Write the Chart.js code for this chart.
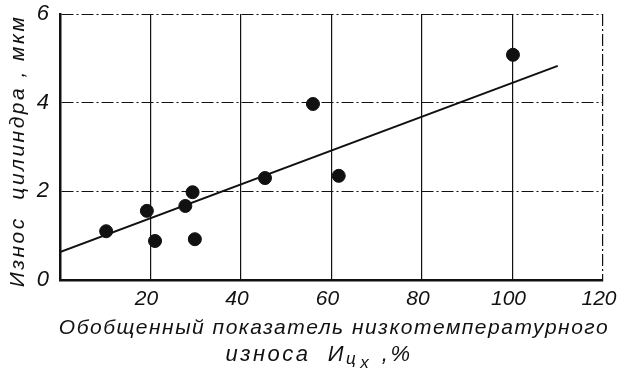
<!DOCTYPE html>
<html>
<head>
<meta charset="utf-8">
<script src="https://cdn.jsdelivr.net/npm/chart.js@4.4.1/dist/chart.umd.min.js"></script>
<style>
    html, body { margin: 0; padding: 0; background: #fff; }
    #wrap { width: 617px; height: 373px; }
</style>
</head>
<body>
<div id="wrap"><canvas id="wearChart" width="617" height="373"></canvas></div>
<script>
// Measured points (generalized index %, cylinder wear um)
const pointX = [10.2, 19.2, 21.0, 27.7, 29.3, 29.8, 45.3, 55.9, 61.6, 100.1];
const pointY = [1.10, 1.56, 0.88, 1.67, 1.98, 0.92, 2.30, 3.97, 2.35, 5.08];

// Fitted line end points
const trendX = [0, 110];
const trendY = [0.63, 4.83];

// Axis ticks
const xTicks = [0, 20, 40, 60, 80, 100, 120];
const yTicks = [0, 2, 4, 6];

// Texts
const yTitle = 'Износ  цилиндра , мкм';
const xTitleLine1 = 'Обобщенный показатель низкотемпературного';
const xTitleMain = 'износа  И';
const xTitleSub1 = 'ц';
const xTitleSub2 = 'х';
const xTitleTail = ' ,%';

const ink = '#111';
const fontFamily = '"Liberation Sans", "DejaVu Sans", sans-serif';
const tickFamily = '"Liberation Sans Narrow", "Liberation Sans", sans-serif';

// white background
const whiteBg = {
    id: 'whiteBg',
    beforeDraw(chart) {
        const ctx = chart.ctx;
        ctx.save();
        ctx.fillStyle = '#fff';
        ctx.fillRect(0, 0, chart.width, chart.height);
        ctx.restore();
    }
};

// axis titles drawn by hand (the x title has a subscript)
const axisTitles = {
    id: 'axisTitles',
    afterDraw(chart) {
        const { ctx } = chart;
        ctx.save();
        ctx.fillStyle = ink;
        ctx.textBaseline = 'middle';

        // y title
        ctx.font = 'italic 21px ' + fontFamily;
        ctx.letterSpacing = '2.5px';
        ctx.textAlign = 'center';
        ctx.save();
        ctx.translate(18, 151);
        ctx.rotate(-Math.PI / 2);
        ctx.fillText(yTitle, 0, 0);
        ctx.restore();

        // x title, first line
        ctx.font = 'italic 21px ' + fontFamily;
        ctx.letterSpacing = '1.5px';
        ctx.fillText(xTitleLine1, 334, 328);

        // x title, second line with subscript
        ctx.letterSpacing = '2.5px';
        ctx.font = 'italic 22px ' + fontFamily;
        const main = ctx.measureText(xTitleMain).width;
        const tail = ctx.measureText(xTitleTail).width;
        ctx.font = 'italic 17px ' + fontFamily;
        const s1 = ctx.measureText(xTitleSub1).width;
        const s2 = ctx.measureText(xTitleSub2).width;
        const total = main + s1 + s2 + tail + 4;
        let x = 319 - total / 2;
        const y = 355;
        ctx.textAlign = 'left';
        ctx.font = 'italic 22px ' + fontFamily;
        ctx.fillText(xTitleMain, x, y);
        x += main;
        ctx.font = 'italic 17px ' + fontFamily;
        ctx.fillText(xTitleSub1, x, y + 4);
        x += s1 + 2;
        ctx.fillText(xTitleSub2, x, y + 8);
        x += s2 + 2;
        ctx.font = 'italic 22px ' + fontFamily;
        ctx.fillText(xTitleTail, x, y);
        ctx.restore();
    }
};

const dashDot = [12, 3, 2, 3];

new Chart(document.getElementById('wearChart'), {
    type: 'scatter',
    data: {
        datasets: [
            {
                label: 'points',
                data: pointX.map((x, i) => ({ x: x, y: pointY[i] })),
                backgroundColor: ink,
                borderColor: ink,
                pointRadius: 6.5,
                pointHoverRadius: 6.5
            },
            {
                type: 'line',
                label: 'trend',
                data: trendX.map((x, i) => ({ x: x, y: trendY[i] })),
                borderColor: ink,
                borderWidth: 2,
                pointRadius: 0,
                fill: false
            }
        ]
    },
    options: {
        responsive: false,
        animation: false,
        layout: { padding: { top: 14, right: 14, left: 0, bottom: 0 } },
        plugins: {
            legend: { display: false },
            tooltip: { enabled: false }
        },
        scales: {
            x: {
                type: 'linear',
                min: 0,
                max: 120,
                afterBuildTicks: (scale) => { scale.ticks = xTicks.map(v => ({ value: v })); },
                afterFit: (scale) => {
                    scale.height = 93;
                    scale.paddingLeft = 0;
                    scale.paddingRight = 0;
                },
                ticks: {
                    padding: 7,
                    labelOffset: -4,
                    color: ink,
                    font: { family: tickFamily, style: 'italic', size: 21 },
                    callback: (v) => v === 0 ? '' : v
                },
                grid: { color: ink, lineWidth: 1.2, drawTicks: false },
                border: {
                    color: ink,
                    width: 2.5,
                    dash: (ctx) => (ctx.tick && ctx.tick.value === 120) ? dashDot : []
                }
            },
            y: {
                min: 0,
                max: 6,
                afterBuildTicks: (scale) => { scale.ticks = yTicks.map(v => ({ value: v })); },
                afterFit: (scale) => {
                    scale.width = 60;
                    scale.paddingTop = 0;
                    scale.paddingBottom = 0;
                },
                ticks: {
                    padding: 11,
                    color: ink,
                    font: { family: tickFamily, style: 'italic', size: 22 }
                },
                grid: { color: ink, lineWidth: 1, drawTicks: false },
                border: {
                    color: ink,
                    width: 2.5,
                    dash: (ctx) => (ctx.tick && ctx.tick.value === 0) ? [] : dashDot
                }
            }
        }
    },
    plugins: [whiteBg, axisTitles]
});
</script>
</body>
</html>
